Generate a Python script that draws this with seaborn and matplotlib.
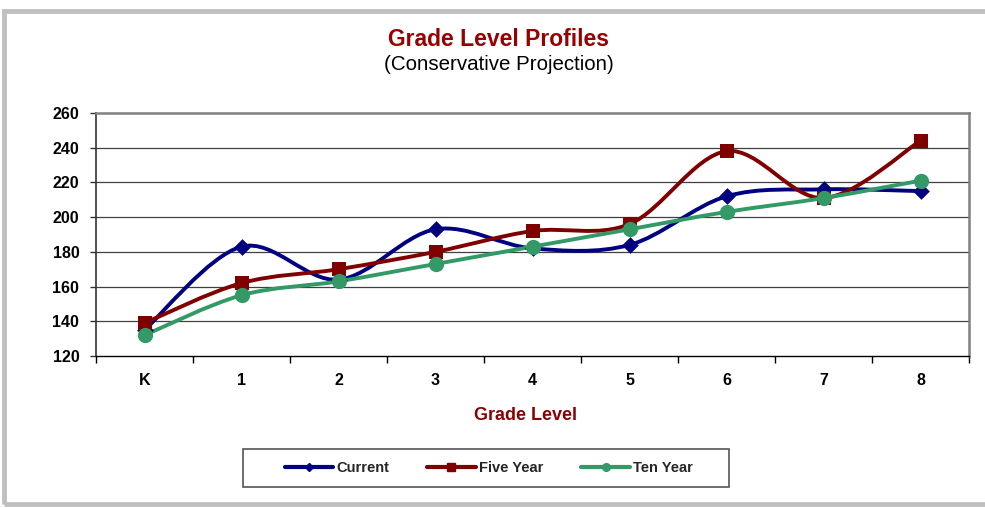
import numpy as np
import pandas as pd
import matplotlib
matplotlib.use("Agg")
import matplotlib.pyplot as plt
from matplotlib.path import Path
from matplotlib.patches import PathPatch, Rectangle
from matplotlib.lines import Line2D
import seaborn as sns

grades = ["K", "1", "2", "3", "4", "5", "6", "7", "8"]
current = [135, 183, 164, 193, 182, 184, 212, 216, 215]
five_year = [139, 162, 170, 180, 192, 196, 238, 211, 244]
ten_year = [132, 155, 163, 173, 183, 193, 203, 211, 221]
series_names = ["Current", "Five Year", "Ten Year"]
y_ticks = [120, 140, 160, 180, 200, 220, 240, 260]

sns.set_theme(style="white")
plt.rcParams["font.family"] = ["Liberation Sans", "DejaVu Sans"]

colors = {"Current": "#000080", "Five Year": "#800000", "Ten Year": "#339966"}
markers = {"Current": "D", "Five Year": "s", "Ten Year": "o"}
msizes = {"Current": 8.5, "Five Year": 10.5, "Ten Year": 11}

rows = []
for name, vals in zip(series_names, [current, five_year, ten_year]):
    for i, (g, v) in enumerate(zip(grades, vals)):
        rows.append({"series": name, "pos": i, "grade": g, "value": v})
df = pd.DataFrame(rows)

fig = plt.figure(figsize=(9.85, 5.08), dpi=100)
# outer frame
fig.patches.append(Rectangle((4 / 985, 4 / 508), 1.2, 493 / 508, transform=fig.transFigure,
                             fill=False, edgecolor="#c0c0c0", linewidth=3.5, zorder=0))

ax = fig.add_axes([96 / 985, 1 - 356 / 508, (969 - 96) / 985, (356 - 113) / 508])


def smooth_path(xs, ys):
    pts = np.column_stack([xs, ys]).astype(float)
    n = len(pts)
    verts = [pts[0]]
    codes = [Path.MOVETO]
    for i in range(n - 1):
        p0 = pts[i - 1] if i > 0 else pts[i]
        p1 = pts[i]
        p2 = pts[i + 1]
        p3 = pts[i + 2] if i + 2 < n else pts[i + 1]
        c1 = p1 + (p2 - p0) / 6.0
        c2 = p2 - (p3 - p1) / 6.0
        verts += [c1, c2, p2]
        codes += [Path.CURVE4] * 3
    return Path(verts, codes)


for name in series_names:
    sub = df[df.series == name]
    patch = PathPatch(smooth_path(sub.pos.values, sub.value.values), transform=ax.transData,
                      facecolor="none", edgecolor=colors[name], linewidth=2.8, zorder=3,
                      capstyle="round", joinstyle="round")
    ax.add_patch(patch)

for name in series_names:
    sub = df[df.series == name]
    sns.scatterplot(data=sub, x="pos", y="value", marker=markers[name], s=msizes[name] ** 2,
                    color=colors[name], edgecolor=colors[name], linewidth=0, ax=ax, zorder=4,
                    legend=False)

ax.set_xlim(-0.5, len(grades) - 0.5)
ax.set_ylim(120, 260)
ax.set_yticks(y_ticks)
ax.set_yticklabels([str(t) for t in y_ticks], fontsize=11.5, fontweight="bold")
ax.set_xticks(range(len(grades)))
ax.set_xticklabels(grades, fontsize=11.5, fontweight="bold")
ax.set_xticks(np.arange(-0.5, len(grades), 1.0), minor=True)
ax.tick_params(axis="x", which="major", length=0, pad=12, colors="black")
ax.tick_params(axis="x", which="minor", length=5, width=1, direction="out", color="black", bottom=True)
ax.tick_params(axis="y", which="major", length=4, width=1, direction="out", color="#333333", left=True,
               pad=8, labelcolor="black")

ax.grid(False)
for t in y_ticks[1:-1]:
    ax.axhline(t, color="#404040", linewidth=0.9, zorder=1)

ax.spines["left"].set_color("#333333")
ax.spines["bottom"].set_color("black")
ax.spines["left"].set_linewidth(1.2)
ax.spines["bottom"].set_linewidth(1)
ax.spines["top"].set_color("#808080")
ax.spines["right"].set_color("#808080")
ax.spines["top"].set_linewidth(1.8)
ax.spines["right"].set_linewidth(1.8)
for s in ax.spines.values():
    s.set_visible(True)

ax.set_xlabel("")
ax.set_ylabel("")
fig.text(525 / 985, 1 - 416 / 508, "Grade Level", ha="center", va="center",
         fontsize=13, fontweight="bold", color="#8B0000")

fig.text(499 / 985, 1 - 39 / 508, "Grade Level Profiles", ha="center", va="center",
         fontsize=16.5, fontweight="bold", color="#990000")
fig.text(499 / 985, 1 - 64 / 508, "(Conservative Projection)", ha="center", va="center",
         fontsize=14.8, color="black")

# legend box
fig.patches.append(Rectangle((243 / 985, 1 - 487 / 508), (729 - 243) / 985, (487 - 449) / 508,
                             transform=fig.transFigure, facecolor="white", edgecolor="#555555",
                             linewidth=1.2, zorder=1))
handles = [Line2D([0], [0], color=colors[n], marker=markers[n], markersize=msizes[n] * 0.5,
                  linewidth=3, markeredgecolor=colors[n]) for n in series_names]
leg = fig.legend(handles, series_names, loc="center", bbox_to_anchor=(489 / 985, 1 - 468 / 508),
                 ncol=3, frameon=False, prop={"weight": "bold", "size": 10.5},
                 handlelength=3.3, handletextpad=0.25, columnspacing=2.6)
leg.set_zorder(2)

fig.savefig("out.png", dpi=100)
